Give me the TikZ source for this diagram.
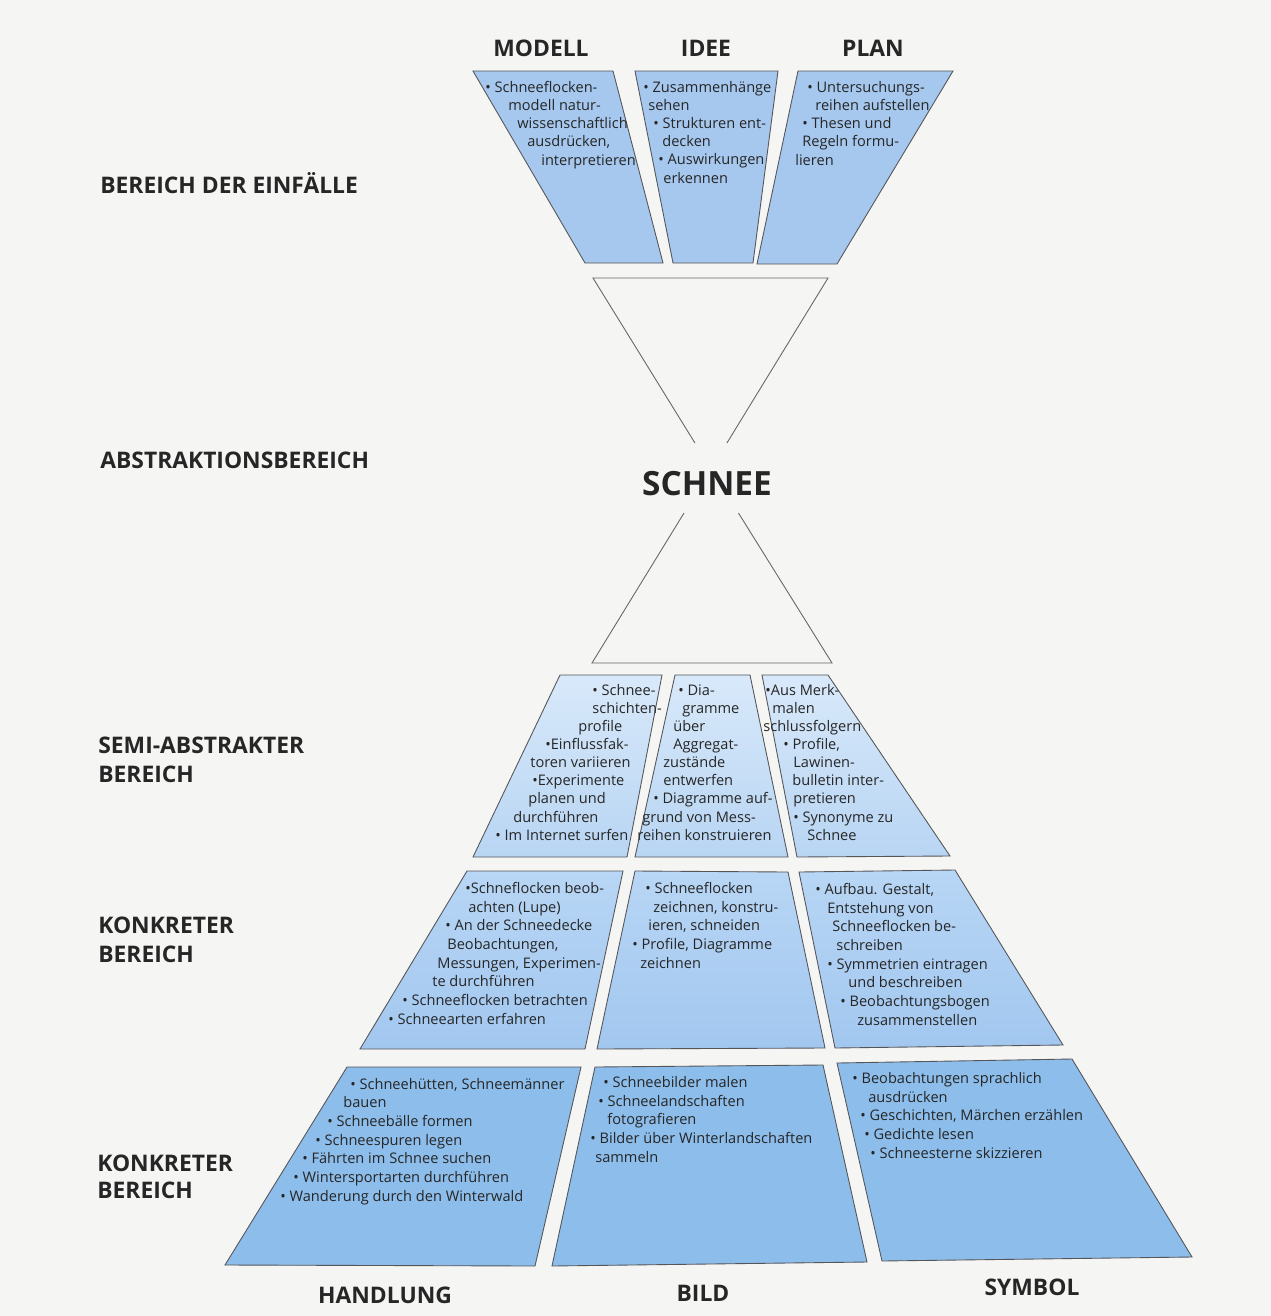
\documentclass[tikz,border=0pt]{standalone}
\usepackage{fontspec}
\setmainfont{Open Sans}
\usetikzlibrary{calc}

\definecolor{paper}{RGB}{245,245,243}
\definecolor{edge}{RGB}{85,85,90}
\definecolor{ideablue}{RGB}{166,200,238}
\definecolor{semitop}{RGB}{216,233,250}
\definecolor{semibot}{RGB}{184,213,243}
\definecolor{konktop}{RGB}{184,214,245}
\definecolor{konkbot}{RGB}{162,199,239}
\definecolor{actblue}{RGB}{141,189,234}

\newlength{\px}
\setlength{\px}{0.02cm}

\begin{document}
\begin{tikzpicture}[x=0.02cm, y=-0.02cm,
  box/.style={draw=edge, line width=0.5pt},
  ideabox/.style={box, fill=ideablue},
  semibox/.style={box, top color=semitop, bottom color=semibot},
  konkbox/.style={box, top color=konktop, bottom color=konkbot},
  actbox/.style={box, fill=actblue},
  hourglass/.style={draw=edge!90, line width=0.5pt},
  % anchor = baseline of the last line
  boxtext/.style={anchor=base west, align=left, inner sep=0pt, text=black!85,
    font=\fontsize{8.3}{10.25}\selectfont},
  lowtext/.style={boxtext, font=\fontsize{8.3}{10.6}\selectfont},
  level/.style={anchor=base west, align=left, inner sep=0pt, text=black!85,
    font=\fontsize{13}{16.4}\selectfont\bfseries},
  column/.style={anchor=base, inner sep=0pt, text=black!85,
    font=\fontsize{13}{15}\selectfont\bfseries}]

\fill[paper] (0,0) rectangle (1271,1316);
\useasboundingbox (0,0) rectangle (1271,1316);

% Bereich der Einfaelle
\path[ideabox] (473,71) -- (613,71) -- (663,263) -- (585,263) -- cycle;
\path[ideabox] (635,71) -- (778,71) -- (753,263) -- (673,263) -- cycle;
\path[ideabox] (798,71) -- (953,71) -- (837,264) -- (757,264) -- cycle;

\node[column] (modell) at (541,56) {MODELL};
\node[column] (idee) at (706,56) {IDEE};
\node[column] (plan) at (873,56) {PLAN};

\node[boxtext] (modelltxt) at (485,165) {%
  • Schneeflocken-\\
  \hspace*{23\px}modell natur-\\
  \hspace*{32\px}wissenschaftlich\\
  \hspace*{42\px}ausdrücken,\\
  \hspace*{56\px}interpretieren};
\node[boxtext] (ideetxt) at (643,183) {%
  • Zusammenhänge\\
  \hspace*{5\px}sehen\\
  \hspace*{10\px}• Strukturen ent-\\
  \hspace*{19\px}decken\\
  \hspace*{15\px}• Auswirkungen\\
  \hspace*{20\px}erkennen};
\node[boxtext] (plantxt) at (795,165) {%
  \hspace*{12\px}• Untersuchungs-\\
  \hspace*{20\px}reihen aufstellen\\
  \hspace*{7\px}• Thesen und\\
  \hspace*{7\px}Regeln formu-\\
  lieren};

% Abstraktionsbereich
\coordinate (apex) at (711,469);
\coordinate (ut1) at (593,278);
\coordinate (ut2) at (828,278);
\coordinate (lb1) at (592,663);
\coordinate (lb2) at (832,663);
\draw[hourglass] ($(ut1)!0.864!(apex)$) -- (ut1) -- (ut2) -- ($(ut2)!0.864!(apex)$);
\draw[hourglass] ($(lb1)!0.773!(apex)$) -- (lb1) -- (lb2) -- ($(lb2)!0.773!(apex)$);

\node[column, font=\fontsize{19}{22}\selectfont\bfseries] (schnee) at (707,495) {SCHNEE};

% semi-abstrakter Bereich
\path[semibox] (560,675) -- (662,675) -- (627,857) -- (473,857) -- cycle;
\path[semibox] (675,675) -- (750,675) -- (788,857) -- (635,857) -- cycle;
\path[semibox] (762,675) -- (828,675) -- (950,856) -- (797,857) -- cycle;

\node[boxtext] (semitxtA) at (495,840) {%
  \hspace*{97\px}• Schnee-\\
  \hspace*{97\px}schichten-\\
  \hspace*{83\px}profile\\
  \hspace*{50\px}•Einflussfak-\\
  \hspace*{35\px}toren variieren\\
  \hspace*{37\px}•Experimente\\
  \hspace*{33\px}planen und\\
  \hspace*{18\px}durchführen\\
  • Im Internet surfen};
\node[boxtext] (semitxtB) at (637,840) {%
  \hspace*{41\px}• Dia-\\
  \hspace*{45\px}gramme\\
  \hspace*{36\px}über\\
  \hspace*{36\px}Aggregat-\\
  \hspace*{26\px}zustände\\
  \hspace*{26\px}entwerfen\\
  \hspace*{16\px}• Diagramme auf-\\
  \hspace*{5\px}grund von Mess-\\
  reihen konstruieren};
\node[boxtext] (semitxtC) at (763,840) {%
  \hspace*{2\px}•Aus Merk-\\
  \hspace*{9\px}malen\\
  schlussfolgern\\
  \hspace*{20\px}• Profile,\\
  \hspace*{30\px}Lawinen-\\
  \hspace*{29\px}bulletin inter-\\
  \hspace*{30\px}pretieren\\
  \hspace*{30\px}• Synonyme zu\\
  \hspace*{44\px}Schnee};

% konkreter Bereich
\path[konkbox] (467,871) -- (623,871) -- (585,1049) -- (360,1049) -- cycle;
\path[konkbox] (635,871) -- (788,872) -- (825,1048) -- (597,1049) -- cycle;
\path[konkbox] (799,872) -- (955,870) -- (1063,1045) -- (835,1048) -- cycle;

\node[lowtext] (konktxtA) at (388,1024) {%
  \hspace*{77\px}•Schneflocken beob-\\
  \hspace*{80\px}achten (Lupe)\\
  \hspace*{57\px}• An der Schneedecke\\
  \hspace*{59\px}Beobachtungen,\\
  \hspace*{49\px}Messungen, Experimen-\\
  \hspace*{44\px}te durchführen\\
  \hspace*{14\px}• Schneeflocken betrachten\\
  • Schneearten erfahren};
\node[lowtext] (konktxtB) at (632,968) {%
  \hspace*{13\px}• Schneeflocken\\
  \hspace*{21\px}zeichnen, konstru-\\
  \hspace*{16\px}ieren, schneiden\\
  • Profile, Diagramme\\
  \hspace*{8\px}zeichnen};
\node[lowtext] (konktxtC) at (815,1025) {%
  • Aufbau. Gestalt,\\
  \hspace*{12\px}Entstehung von\\
  \hspace*{17\px}Schneeflocken be-\\
  \hspace*{21\px}schreiben\\
  \hspace*{12\px}• Symmetrien eintragen\\
  \hspace*{33\px}und beschreiben\\
  \hspace*{25\px}• Beobachtungsbogen\\
  \hspace*{42\px}zusammenstellen};

% Handlung, Bild, Symbol
\path[actbox] (347,1067) -- (581,1067) -- (535,1266) -- (225,1265) -- cycle;
\path[actbox] (595,1067) -- (823,1065) -- (867,1262) -- (552,1266) -- cycle;
\path[actbox] (837,1063) -- (1072,1059) -- (1192,1257) -- (882,1261) -- cycle;

\node[lowtext] (acttxtA) at (280,1201) {%
  \hspace*{70\px}• Schneehütten, Schneemänner\\
  \hspace*{63\px}bauen\\
  \hspace*{47\px}• Schneebälle formen\\
  \hspace*{35\px}• Schneespuren legen\\
  \hspace*{22\px}• Fährten im Schnee suchen\\
  \hspace*{13\px}• Wintersportarten durchführen\\
  • Wanderung durch den Winterwald};
\node[lowtext] (acttxtB) at (590,1162) {%
  \hspace*{13\px}• Schneebilder malen\\
  \hspace*{8\px}• Schneelandschaften\\
  \hspace*{17\px}fotografieren\\
  • Bilder über Winterlandschaften\\
  \hspace*{5\px}sammeln};
\node[lowtext] (acttxtC) at (852,1158) {%
  • Beobachtungen sprachlich\\
  \hspace*{16\px}ausdrücken\\
  \hspace*{8\px}• Geschichten, Märchen erzählen\\
  \hspace*{12\px}• Gedichte lesen\\
  \hspace*{18\px}• Schneesterne skizzieren};

\node[column] (handlung) at (385,1303) {HANDLUNG};
\node[column] (bild) at (703,1301) {BILD};
\node[column] (symbol) at (1032,1295) {SYMBOL};

% Bereiche links
\node[level] (einfaelle) at (100,193) {BEREICH DER EINFÄLLE};
\node[level] (abstraktion) at (100,468) {ABSTRAKTIONSBEREICH};
\node[level] (semi) at (98,782) {SEMI-ABSTRAKTER\\BEREICH};
\node[level] (konkret) at (98,962) {KONKRETER\\BEREICH};
\node[level, font=\fontsize{13}{15}\selectfont\bfseries] (konkretB) at (97,1198) {KONKRETER\\BEREICH};

\end{tikzpicture}
\end{document}
